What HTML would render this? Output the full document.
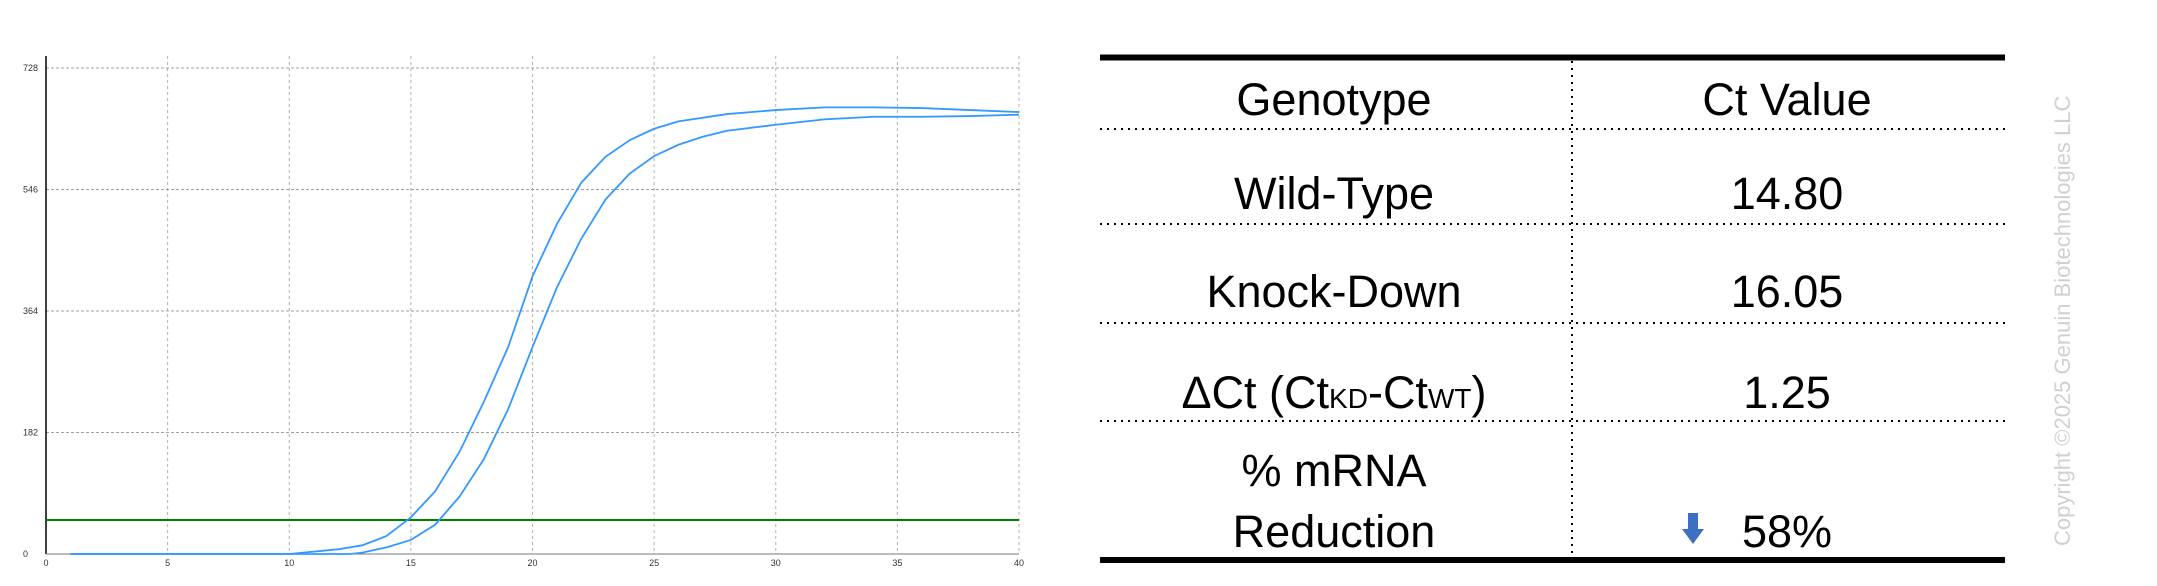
<!DOCTYPE html>
<html><head><meta charset="utf-8"><style>
html,body{margin:0;padding:0;background:#fff;width:2157px;height:586px;overflow:hidden}
svg{display:block;font-family:"Liberation Sans",sans-serif}
</style></head><body>
<svg id="root" width="2157" height="586" viewBox="0 0 2157 586">
<g id="chart"></g>
<g id="table">
 <line x1="1100" y1="57.5" x2="2005" y2="57.5" stroke="#000" stroke-width="6"/>
 <line x1="1100" y1="560" x2="2005" y2="560" stroke="#000" stroke-width="6"/>
 <line x1="1572" y1="61" x2="1572" y2="557" stroke="#000" stroke-width="2" stroke-dasharray="2,5"/>
 <g stroke="#000" stroke-width="2" stroke-dasharray="2,5">
  <line x1="1100" y1="129" x2="2005" y2="129"/>
  <line x1="1100" y1="224" x2="2005" y2="224"/>
  <line x1="1100" y1="323" x2="2005" y2="323"/>
  <line x1="1100" y1="421" x2="2005" y2="421"/>
 </g>
 <g font-size="45" text-anchor="middle" fill="#000">
  <text x="1334" y="115">Genotype</text>
  <text x="1787" y="115">Ct Value</text>
  <text x="1334" y="209">Wild-Type</text>
  <text x="1787" y="209">14.80</text>
  <text x="1334" y="307">Knock-Down</text>
  <text x="1787" y="307">16.05</text>
  <text x="1334" y="408">ΔCt (Ct<tspan font-size="28">KD</tspan>-Ct<tspan font-size="28">WT</tspan>)</text>
  <text x="1787" y="408">1.25</text>
  <text x="1334" y="486">% mRNA</text>
  <text x="1334" y="547">Reduction</text>
  <text x="1787" y="547">58%</text>
 </g>
 <path d="M1688,513 h10 v16 h6 l-11,15 l-11,-15 h6 z" fill="#3c6fc2"/>
 <text transform="translate(2070,546) rotate(-90)" font-size="22" fill="#d0d0d0">Copyright ©2025 Genuin Biotechnologies LLC</text>
</g>
</svg>
<script>
const cycles=[0,1,10,12,13,14,15,16,17,18,19,20,21,22,23,24,25,26,28,30,32,34,36,38,40];
const wtValues=[0,0,0,7,13,27,55,94,153,228,310,416,494,556,595,620,637,648,659,665,669,669,668,665,662];
const kdCycles=[1,12.5,13,14,15,16,17,18,19,20,21,22,23,24,25,26,27,28,30,32,34,36,38,40];
const kdValues=[0,0,2,10,21,44,86,142,217,310,399,472,531,570,596,613,625,634,643,651,655,655,656,658];
const xTicks=[0,5,10,15,20,25,30,35,40];
const yTicks=[0,182,364,546,728];
const threshold=51;
const X0=46,X1=1019,Y0=554,Y1=68;
const xs=v=>X0+(X1-X0)*v/40, ys=v=>Y0-(Y0-Y1)*v/728;
const NS='http://www.w3.org/2000/svg', g=document.getElementById('chart');
function mk(t,a){const e=document.createElementNS(NS,t);for(const k in a)e.setAttribute(k,a[k]);g.appendChild(e);return e;}
xTicks.forEach(t=>{
 if(t>0){const l=mk('line',{x1:xs(t),y1:Y1-12,x2:xs(t),y2:Y0,stroke:'#b0b0b0','stroke-width':1,'stroke-dasharray':'3,3'});
 
 }
 const tx=mk('text',{x:xs(t),y:Y0+12,'font-size':9,'text-anchor':'middle',fill:'#333'});tx.textContent=t;
 
 
});
yTicks.forEach(t=>{
 if(t>0){const l=mk('line',{x1:X0,y1:ys(t),x2:X1,y2:ys(t),stroke:'#a0a0a0','stroke-width':1,'stroke-dasharray':'3,2'});
 
 }
 const tx=mk('text',{x:t==0?28:38,y:ys(t)+3,'font-size':9,'text-anchor':'end',fill:'#333'});tx.textContent=t;
 
 
});
let ax=mk('line',{x1:X0,y1:56,x2:X0,y2:Y0,stroke:'#000','stroke-width':1.5});


ax=mk('line',{x1:X0,y1:Y0,x2:X1,y2:Y0,stroke:'#777','stroke-width':1});


const th=mk('line',{x1:X0,y1:ys(threshold),x2:X1,y2:ys(threshold),stroke:'#008000','stroke-width':2});


function curve(xsArr,vals,name){
 const p=mk('polyline',{points:xsArr.map((c,i)=>xs(c)+','+ys(vals[i])).join(' '),fill:'none',stroke:'#3399ff','stroke-width':1.8});
 
 
}
curve(cycles.slice(1),wtValues.slice(1),'wild-type-curve');
curve(kdCycles,kdValues,'knock-down-curve');
</script>
</body></html>
